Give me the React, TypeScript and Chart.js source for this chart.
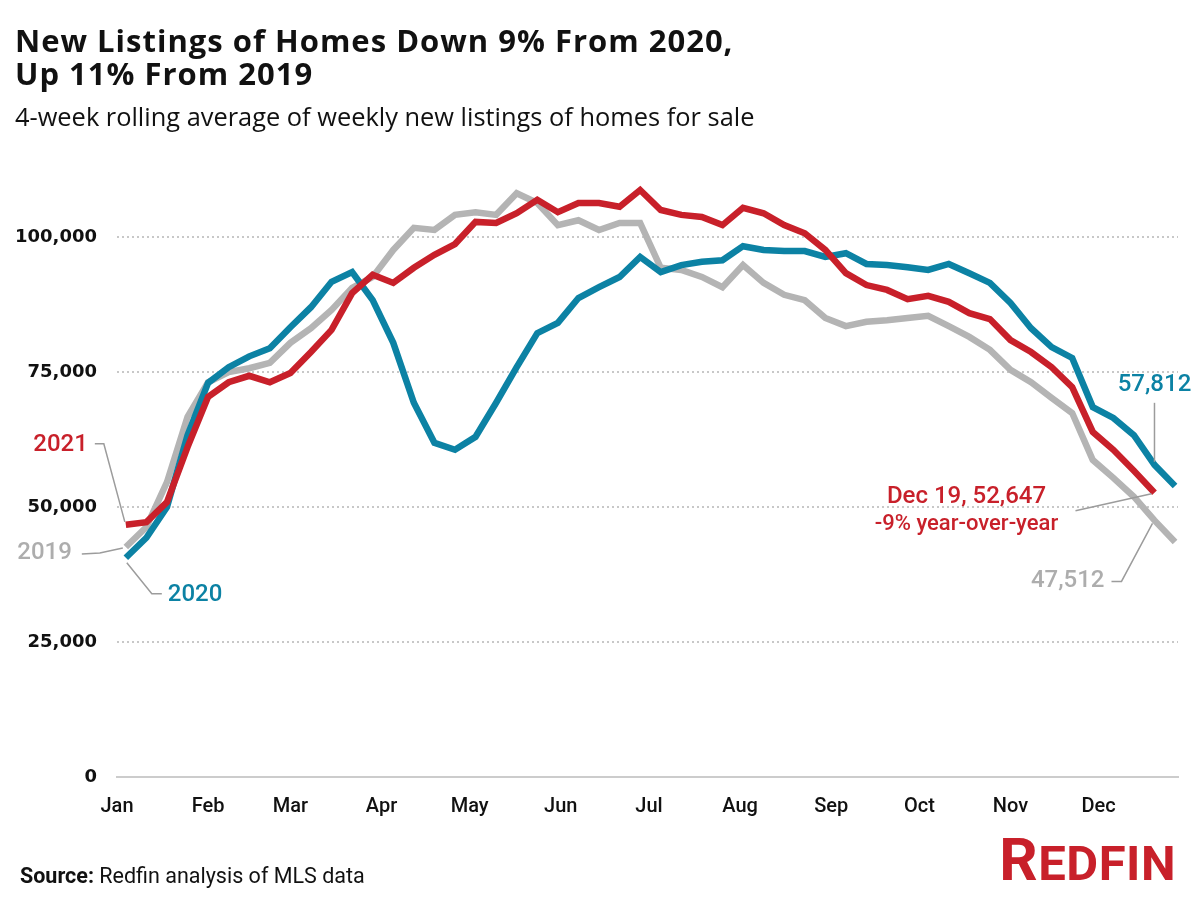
import React, { useEffect, useRef } from 'react';
import { Chart, registerables } from 'chart.js';

Chart.register(...registerables);

// ---------- data ----------
const monthLabels = ['Jan', 'Feb', 'Mar', 'Apr', 'May', 'Jun', 'Jul', 'Aug', 'Sep', 'Oct', 'Nov', 'Dec'];
const monthStartDays = [0, 31, 59, 90, 120, 151, 181, 212, 243, 273, 304, 334];

// day of year of each weekly observation
const weekDays = [
  3, 10, 17, 24, 31, 38, 45, 52, 59, 66, 73, 80, 87, 94, 101, 108, 115, 122, 129, 136,
  143, 150, 157, 164, 171, 178, 185, 192, 199, 206, 213, 220, 227, 234, 241, 248, 255, 262,
  269, 276, 283, 290, 297, 304, 311, 318, 325, 332, 339, 346, 353, 360,
];

const listings2021 = [
  46700, 47200, 50900, 61100, 70400, 73100, 74300, 73100, 74800, 78700, 82800, 89600, 93000,
  91500, 94300, 96700, 98700, 102800, 102600, 104400, 106900, 104600, 106300, 106300, 105600,
  108700, 105000, 104100, 103700, 102200, 105400, 104400, 102200, 100700, 97600, 93300, 91100,
  90200, 88500, 89100, 88000, 85900, 84800, 80900, 78700, 75900, 72200, 63900, 60600, 56700,
  52647,
];

const listings2020 = [
  40600, 44300, 50000, 63300, 73000, 75900, 77900, 79400, 83300, 87000, 91700, 93500, 88300,
  80400, 69300, 61900, 60600, 63000, 69300, 75900, 82200, 84100, 88700, 90700, 92600, 96300,
  93500, 94800, 95400, 95700, 98300, 97600, 97400, 97400, 96300, 97000, 95000, 94800, 94400,
  93900, 95000, 93300, 91500, 87800, 83100, 79600, 77600, 68500, 66500, 63300, 57812, 53900,
];

const listings2019 = [
  42600, 46300, 54600, 66700, 73100, 75000, 75700, 76700, 80400, 83100, 86500, 90600, 92600,
  97600, 101700, 101300, 104100, 104600, 104100, 108100, 106300, 102200, 103100, 101300, 102600,
  102600, 94300, 93900, 92600, 90700, 94800, 91500, 89300, 88300, 85000, 83500, 84300, 84600,
  85000, 85400, 83500, 81500, 79100, 75400, 73100, 70200, 67400, 58700, 55400, 51900, 47512,
  43500,
];

const yTickValues = [0, 25000, 50000, 75000, 100000];

// ---------- style ----------
const RED = '#c8202a';
const BLUE = '#0c82a4';
const GRAY = '#b4b4b4';
const LABEL_GRAY = '#adadad';
const LEADER = '#9c9c9c';

const toPoints = (vals: number[]) => vals.map((v, i) => ({ x: weekDays[i], y: v }));
const fmt = (v: number) => v.toLocaleString('en-US');

const annotationPlugin = {
  id: 'redfinAnnotations',
  afterDatasetsDraw(chart: any) {
    const ctx = chart.ctx as CanvasRenderingContext2D;
    const pt = (ds: number, idx: number) => {
      const el = chart.getDatasetMeta(ds).data[idx];
      return { x: el.x as number, y: el.y as number };
    };
    const n21 = listings2021.length - 1;
    const r0 = pt(0, 0);
    const b0 = pt(1, 0);
    const g0 = pt(2, 0);
    const r50 = pt(0, n21);
    const b50 = pt(1, n21);
    const g50 = pt(2, n21);

    const line = (pts: [number, number][]) => {
      ctx.save();
      ctx.strokeStyle = LEADER;
      ctx.lineWidth = 1.5;
      ctx.beginPath();
      pts.forEach(([x, y], i) => (i === 0 ? ctx.moveTo(x, y) : ctx.lineTo(x, y)));
      ctx.stroke();
      ctx.restore();
    };
    const text = (s: string, x: number, y: number, color: string, align: CanvasTextAlign, size = 24) => {
      ctx.save();
      ctx.font = `500 ${size}px Roboto`;
      ctx.fillStyle = color;
      ctx.textAlign = align;
      ctx.textBaseline = 'middle';
      ctx.fillText(s, x, y);
      ctx.restore();
    };

    // start labels
    line([[r0.x - 31, r0.y - 81], [r0.x - 22, r0.y - 81], [r0.x - 1, r0.y - 3]]);
    text('2021', r0.x - 38, r0.y - 80, RED, 'right');

    line([[g0.x - 44, g0.y + 7], [g0.x - 26, g0.y + 6], [g0.x - 3, g0.y + 1]]);
    text('2019', g0.x - 54, g0.y + 6, LABEL_GRAY, 'right');

    line([[b0.x + 1, b0.y + 5], [b0.x + 26, b0.y + 36], [b0.x + 36, b0.y + 36]]);
    text('2020', b0.x + 42, b0.y + 37, BLUE, 'left');

    // end labels
    line([[b50.x, b50.y - 62], [b50.x, b50.y - 3]]);
    text(fmt(listings2020[n21]), b50.x, b50.y - 80, BLUE, 'center');

    line([[r50.x - 79, r50.y + 18], [r50.x - 3, r50.y + 1]]);
    text('Dec 19, ' + fmt(listings2021[n21]), r50.x - 188, r50.y + 4, RED, 'center');
    text('-9% year-over-year', r50.x - 188, r50.y + 32, RED, 'center', 22);

    line([[g50.x - 43, g50.y + 61], [g50.x - 33, g50.y + 61], [g50.x - 2, g50.y + 3]]);
    text(fmt(listings2019[n21]), g50.x - 50, g50.y + 61, LABEL_GRAY, 'right');
  },
};

export default function App() {
  const canvasRef = useRef<HTMLCanvasElement | null>(null);

  useEffect(() => {
    if (!canvasRef.current) return;
    const chart = new Chart(canvasRef.current, {
      type: 'line',
      data: {
        datasets: [
          { label: '2021', data: toPoints(listings2021), borderColor: RED, borderWidth: 6.5, pointRadius: 0, tension: 0, order: 0 },
          { label: '2020', data: toPoints(listings2020), borderColor: BLUE, borderWidth: 6.5, pointRadius: 0, tension: 0, order: 1 },
          { label: '2019', data: toPoints(listings2019), borderColor: GRAY, borderWidth: 6.5, pointRadius: 0, tension: 0, order: 2 },
        ],
      },
      options: {
        responsive: false,
        animation: false,
        events: [],
        layout: { padding: { left: 0, right: 22, top: 156, bottom: 0 } },
        plugins: { legend: { display: false }, tooltip: { enabled: false }, title: { display: false } },
        scales: {
          x: {
            type: 'linear',
            min: 0,
            max: 361,
            afterBuildTicks: (scale: any) => {
              scale.ticks = monthStartDays.map((v) => ({ value: v }));
            },
            afterFit: (scale: any) => {
              scale.height = 123;
            },
            grid: { display: false, drawTicks: false },
            border: { display: true, color: '#cccccc', width: 2 },
            ticks: {
              autoSkip: false,
              maxRotation: 0,
              padding: 18,
              color: '#111111',
              font: { family: 'Roboto', size: 20, weight: 500 },
              callback: (v: any) => {
                const i = monthStartDays.indexOf(Number(v));
                return i >= 0 ? monthLabels[i] : '';
              },
            },
          },
          y: {
            type: 'linear',
            min: 0,
            max: 115000,
            afterBuildTicks: (scale: any) => {
              scale.ticks = yTickValues.map((v) => ({ value: v }));
            },
            afterFit: (scale: any) => {
              scale.width = 117;
            },
            grid: {
              drawTicks: false,
              color: (c: any) => (c.tick && c.tick.value === 0 ? 'rgba(0,0,0,0)' : '#c8c8c8'),
              lineWidth: 2,
            },
            border: { display: false, dash: [2, 3] },
            ticks: {
              padding: 20,
              color: '#111111',
              font: { family: 'DejaVu Sans', size: 18, weight: 'bold' },
              callback: (v: any) => fmt(Number(v)),
            },
          },
        },
      },
      plugins: [annotationPlugin],
    });
    return () => chart.destroy();
  }, []);

  const head = "'Open Sans', 'Roboto', sans-serif";

  return (
    <div style={{ position: 'fixed', left: 0, top: 0, width: 1200, height: 900, background: '#ffffff', overflow: 'hidden' }}>
      <canvas ref={canvasRef} width={1200} height={900} style={{ position: 'absolute', left: 0, top: 0, width: 1200, height: 900 }} />
      <div style={{ position: 'absolute', left: 15, top: 24, fontFamily: head, fontWeight: 700, fontSize: 31, letterSpacing: 1, lineHeight: '33.3px', color: '#111', whiteSpace: 'nowrap' }}>
        New Listings of Homes Down 9% From 2020,
        <br />
        Up 11% From 2019
      </div>
      <div style={{ position: 'absolute', left: 15, top: 102, fontFamily: head, fontWeight: 400, fontSize: 25.4, lineHeight: '28px', color: '#111', whiteSpace: 'nowrap' }}>
        4-week rolling average of weekly new listings of homes for sale
      </div>
      <div style={{ position: 'absolute', left: 20, top: 864, fontFamily: 'Roboto, sans-serif', fontSize: 21.5, lineHeight: '24px', color: '#111', whiteSpace: 'nowrap' }}>
        <span style={{ fontWeight: 700 }}>Source:</span> Redfin analysis of MLS data
      </div>
      <div style={{ position: 'absolute', right: 24, top: 830, fontFamily: 'Roboto, sans-serif', fontWeight: 700, lineHeight: '60px', color: RED, whiteSpace: 'nowrap', letterSpacing: 0.5 }}>
        <span style={{ fontSize: 60 }}>R</span>
        <span style={{ fontSize: 49 }}>EDFIN</span>
      </div>
    </div>
  );
}
